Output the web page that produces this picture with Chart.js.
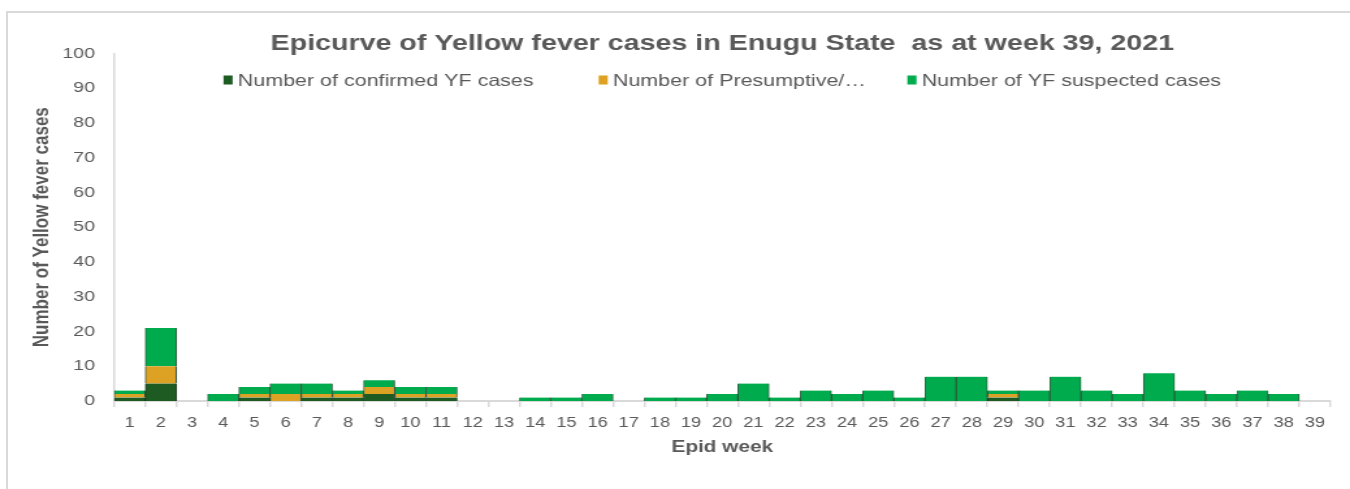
<!DOCTYPE html>
<html>
<head>
<meta charset="utf-8">
<title>Epicurve of Yellow fever cases in Enugu State</title>
<script src="https://cdn.jsdelivr.net/npm/chart.js@4.4.1/dist/chart.umd.min.js"></script>
<style>
  html, body { margin: 0; padding: 0; background: #fff; }
  body { position: relative; width: 1350px; height: 489px; overflow: hidden; }
  .frame { position: absolute; left: 6px; top: 11px; width: 1400px; height: 600px;
           border-left: 2px solid #d9d9d9; border-top: 2px solid #d9d9d9; }
  #epicurve { position: absolute; left: 0; top: 0; }
</style>
</head>
<body>
<div class="frame"></div>
<!-- drawn narrow and stretched sideways, like the source image -->
<canvas id="epicurve" width="1038" height="489" style="width:1350px;height:489px"></canvas>
<script>
// Epid weeks (x axis)
const weeks = ['1', '2', '3', '4', '5', '6', '7', '8', '9', '10', '11', '12', '13',
  '14', '15', '16', '17', '18', '19', '20', '21', '22', '23', '24', '25', '26',
  '27', '28', '29', '30', '31', '32', '33', '34', '35', '36', '37', '38', '39'];

// Cases per week
const confirmed = [1, 5, 0, 0, 1, 0, 1, 1, 2, 1, 1, 0, 0, 0, 0, 0, 0, 0, 0, 0,
  0, 0, 0, 0, 0, 0, 0, 0, 1, 0, 0, 0, 0, 0, 0, 0, 0, 0, 0];
const presumptive = [1, 5, 0, 0, 1, 2, 1, 1, 2, 1, 1, 0, 0, 0, 0, 0, 0, 0, 0, 0,
  0, 0, 0, 0, 0, 0, 0, 0, 1, 0, 0, 0, 0, 0, 0, 0, 0, 0, 0];
const suspected = [1, 11, 0, 2, 2, 3, 3, 1, 2, 2, 2, 0, 0, 1, 1, 2, 0, 1, 1, 2,
  5, 1, 3, 2, 3, 1, 7, 7, 1, 3, 7, 3, 2, 8, 3, 2, 3, 2, 0];

const textGrey = '#595959';
const axisGrey = '#d9d9d9';
const family = "'Liberation Sans', Arial, sans-serif";

Chart.defaults.font.family = family;
Chart.defaults.color = textGrey;

// empty weeks get no bar at all
const noZero = arr => arr.map(v => v || null);
const barEdge = { left: 1, right: 1, top: 0, bottom: 0 };

// legend sits inside the plot, over the top gridline area
const inlineLegend = {
  id: 'inlineLegend',
  afterDraw(chart) {
    const { ctx, chartArea } = chart;
    const gaps = [50, 32];
    ctx.save();
    ctx.font = '16.5px ' + family;
    ctx.textBaseline = 'middle';
    const items = chart.data.datasets.map(ds => ({
      text: ds.label,
      color: ds.backgroundColor,
      w: 11 + ctx.measureText(ds.label).width
    }));
    const total = items.reduce((s, it) => s + it.w, 0) + gaps[0] + gaps[1];
    let x = (chartArea.left + chartArea.right) / 2 - total / 2;
    const y = 80;
    items.forEach((it, i) => {
      ctx.fillStyle = it.color;
      ctx.fillRect(x, y - 4.5, 7, 9);
      ctx.fillStyle = textGrey;
      ctx.fillText(it.text, x + 11, y + 1);
      x += it.w + (gaps[i] || 0);
    });
    ctx.restore();
  }
};

const ctx = document.getElementById('epicurve').getContext('2d');
const epicurve = new Chart(ctx, {
  type: 'bar',
  data: {
    labels: weeks,
    datasets: [
      {
        label: 'Number of confirmed YF cases',
        data: noZero(confirmed),
        backgroundColor: '#1D5B22',
        borderColor: 'rgba(10,45,18,0.9)',
        borderWidth: barEdge
      },
      {
        label: 'Number of Presumptive/…',
        data: noZero(presumptive),
        backgroundColor: '#DDA224',
        borderColor: 'rgba(10,45,18,0.8)',
        borderWidth: barEdge
      },
      {
        label: 'Number of YF suspected cases',
        data: noZero(suspected),
        backgroundColor: '#00AB4E',
        borderColor: 'rgba(10,70,30,0.85)',
        borderWidth: barEdge
      }
    ]
  },
  options: {
    responsive: false,
    animation: false,
    devicePixelRatio: 1,
    categoryPercentage: 1,
    barPercentage: 1,
    layout: {
      padding: { top: 31, left: 10, right: 15, bottom: 30 }
    },
    plugins: {
      legend: { display: false },
      tooltip: { enabled: false },
      title: {
        display: true,
        fullSize: false,
        text: 'Epicurve of Yellow fever cases in Enugu State  as at week 39, 2021',
        color: textGrey,
        font: { size: 22, weight: 'bold' },
        padding: { top: 0, bottom: -4 }
      }
    },
    scales: {
      x: {
        stacked: true,
        afterFit: scale => { scale.height = 58; },
        grid: {
          offset: true,
          drawOnChartArea: false,
          drawTicks: true,
          tickLength: 6,
          color: axisGrey,
          lineWidth: 1.5
        },
        border: { color: axisGrey, width: 2 },
        ticks: {
          autoSkip: false,
          maxRotation: 0,
          padding: 7.7,
          color: textGrey,
          font: { size: 14 }
        },
        title: {
          display: true,
          text: 'Epid week',
          color: textGrey,
          font: { size: 16, weight: 'bold' },
          padding: { top: 4, bottom: 2 }
        }
      },
      y: {
        stacked: true,
        min: 0,
        max: 100,
        afterFit: scale => { scale.width = 77.7; },
        grid: { display: false, drawTicks: false },
        border: { color: axisGrey, width: 1.5 },
        ticks: {
          stepSize: 10,
          padding: 14.7,
          color: textGrey,
          font: { size: 15 }
        },
        title: {
          display: true,
          text: 'Number of Yellow fever cases',
          color: textGrey,
          font: { size: 17, weight: 'bold' },
          padding: { top: 12.2, bottom: 5 }
        }
      }
    }
  },
  plugins: [inlineLegend]
});
</script>
</body>
</html>
